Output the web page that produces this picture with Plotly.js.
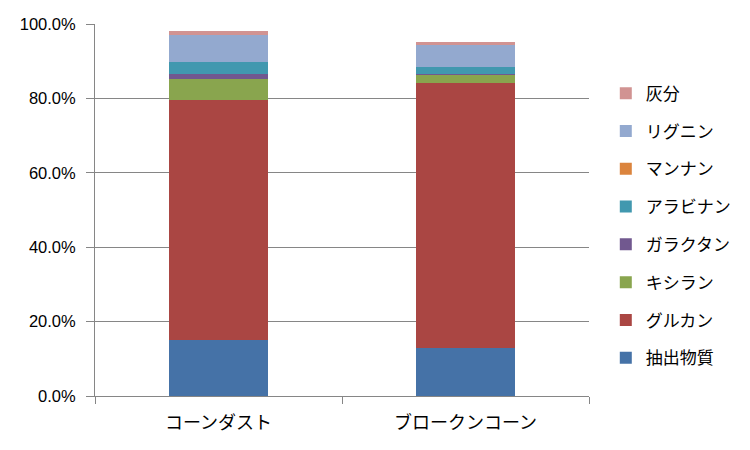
<!DOCTYPE html>
<html>
<head>
<meta charset="utf-8">
<script src="https://cdn.plot.ly/plotly-3.0.1.min.js"></script>
<style>
  html, body { margin: 0; padding: 0; background: #fff; }
  #chart { width: 750px; height: 450px; }
</style>
</head>
<body>
<div id="chart"></div>
<script>
// samples on the x axis
const samples = ['コーンダスト', 'ブロークンコーン'];

// composition in % (bottom to top)
const extractives = [15.0, 13.0];  // 抽出物質
const glucan      = [64.6, 71.1];  // グルカン
const xylan       = [5.5, 2.1];    // キシラン
const galactan    = [1.4, 0.4];    // ガラクタン
const arabinan    = [3.3, 1.8];    // アラビナン
const mannan      = [0.0, 0.0];    // マンナン
const lignin      = [7.2, 5.9];    // リグニン
const ash         = [1.0, 0.8];    // 灰分

const seriesNames  = ['抽出物質', 'グルカン', 'キシラン', 'ガラクタン', 'アラビナン', 'マンナン', 'リグニン', '灰分'];
const seriesValues = [extractives, glucan, xylan, galactan, arabinan, mannan, lignin, ash];
const seriesColors = ['#4572A7', '#AA4643', '#89A54E', '#71588F', '#4198AF', '#DB843D', '#93A9CF', '#D19392'];

const jpFont = '"Noto Sans CJK JP", "Noto Sans", sans-serif';

// legend lists top series first, like the stack
const traces = seriesNames.map((name, i) => ({
    type: 'bar',
    name: name,
    x: samples,
    y: seriesValues[i],
    legendgroup: 'g' + i,
    legendrank: 100 - i,
    marker: { color: seriesColors[i], line: { width: 0 } },
    hoverinfo: 'x+y+name'
}));

const layout = {
    width: 750,
    height: 450,
    barmode: 'stack',
    bargap: 0.6,
    showlegend: true,
    paper_bgcolor: '#ffffff',
    plot_bgcolor: '#ffffff',
    margin: { l: 95, r: 161, t: 24, b: 54 },
    xaxis: {
        showgrid: false,
        showline: true,
        linecolor: '#868686',
        linewidth: 1,
        ticks: 'outside',
        tickson: 'boundaries',
        ticklen: 7,
        tickcolor: '#868686',
        ticklabelstandoff: 10,
        tickfont: { family: jpFont, size: 18, color: '#000' }
    },
    yaxis: {
        range: [0, 100],
        dtick: 20,
        tickformat: '.1f',
        ticksuffix: '%',
        showgrid: true,
        gridcolor: '#868686',
        gridwidth: 1,
        zeroline: false,
        showline: true,
        linecolor: '#868686',
        linewidth: 1,
        ticks: 'outside',
        ticklen: 8,
        tickcolor: '#868686',
        ticklabelstandoff: 7,
        tickfont: { family: '"Liberation Sans", Arial, sans-serif', size: 16.5, color: '#000' }
    },
    legend: {
        x: 1.034,
        xanchor: 'left',
        y: 0.458,
        yanchor: 'middle',
        traceorder: 'grouped',
        tracegroupgap: 12.7,
        font: { family: jpFont, size: 17, color: '#000' },
        itemwidth: 30
    }
};

Plotly.newPlot('chart', traces, layout, { staticPlot: true, displayModeBar: false });
</script>
</body>
</html>
